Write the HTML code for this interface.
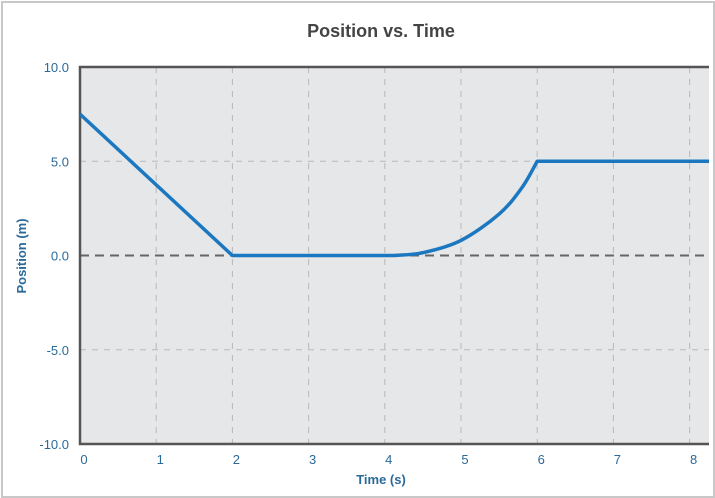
<!DOCTYPE html>
<html><head><meta charset="utf-8"><style>
body{margin:0;background:#fff;font-family:"Liberation Sans",sans-serif}
#frame{position:absolute;left:1px;top:1px;width:710px;height:493px;border:2px solid #c8c8c8}
</style></head><body>
<div id="frame"></div>
<svg id="c" width="715" height="498" style="position:absolute;left:0;top:0">
<text x="381" y="37" text-anchor="middle" font-size="18" font-weight="bold" fill="#444">Position vs. Time</text>
<text x="381" y="484" text-anchor="middle" font-size="13" font-weight="bold" fill="#2a6a9a">Time (s)</text>
<text transform="translate(26,256) rotate(-90)" text-anchor="middle" font-size="13" font-weight="bold" fill="#2a6a9a">Position (m)</text>
</svg>
<script>
const xTicks=[0,1,2,3,4,5,6,7,8];
const yTicks=[10,5,0,-5,-10];
const yTickLabels=["10.0","5.0","0.0","-5.0","-10.0"];
const times=[0,2,4.1,4.5,5,5.5,5.8,6,8.3];
const positions=[7.5,0,0,0.15,0.8,2.2,3.6,5,5];
const L=80,R=709,T=67,B=444;
const sx=t=>L+t*76.2, sy=v=>255.5-v*18.85;
const svg=document.getElementById('c'),NS='http://www.w3.org/2000/svg';
function mk(tag,a,parent){const e=document.createElementNS(NS,tag);for(const k in a)e.setAttribute(k,a[k]);(parent||svg).appendChild(e);return e;}
const defs=mk('defs',{});
const cp=mk('clipPath',{id:'plotclip'},defs);
mk('rect',{x:L-5,y:T-5,width:R-L+5,height:B-T+10},cp);
const bg=mk('rect',{x:L,y:T,width:R-L,height:B-T,fill:'#e6e7e9'});


xTicks.forEach(t=>{if(t===0)return;const g=mk('line',{x1:sx(t),x2:sx(t),y1:T,y2:B,stroke:'#b8b8b8','stroke-dasharray':'6,6'});

});
xTicks.forEach(t=>{const l=mk('text',{x:sx(t)+4,y:464,'text-anchor':'middle','font-size':13,fill:'#2a6a9a'});l.textContent=t;

});
yTicks.forEach((v,i)=>{if(v!==10&&v!==-10&&v!==0){const g=mk('line',{x1:L,x2:R,y1:sy(v),y2:sy(v),stroke:'#b8b8b8','stroke-dasharray':'6,6'});

}
const l=mk('text',{x:69,y:sy(v)+5,'text-anchor':'end','font-size':13,fill:'#2a6a9a'});l.textContent=yTickLabels[i];

});
const z=mk('line',{x1:L,x2:R,y1:sy(0),y2:sy(0),stroke:'#666','stroke-width':2,'stroke-dasharray':'9,6'});


const ax=mk('path',{d:`M${R},${T}H${L}V${B}H${R}`,fill:'none',stroke:'#555','stroke-width':2.5});


let d='M'+sx(times[0])+','+sy(positions[0]);
for(let i=1;i<times.length;i++){
 const p0=[sx(times[Math.max(0,i-2)]),sy(positions[Math.max(0,i-2)])],p1=[sx(times[i-1]),sy(positions[i-1])],p2=[sx(times[i]),sy(positions[i])],p3=[sx(times[Math.min(times.length-1,i+1)]),sy(positions[Math.min(times.length-1,i+1)])];
 const curved=times[i-1]>=4.1&&times[i]<=6;
 if(!curved){d+=`L${p2[0]},${p2[1]}`;continue;}
 const q0=times[i-1]<=4.1?p1:p0, q3=times[i]>=6?p2:p3;
 const c1=[p1[0]+(p2[0]-q0[0])/6,p1[1]+(p2[1]-q0[1])/6],c2=[p2[0]-(q3[0]-p1[0])/6,p2[1]-(q3[1]-p1[1])/6];
 d+=`C${c1[0]},${c1[1]} ${c2[0]},${c2[1]} ${p2[0]},${p2[1]}`;
}
const ln=mk('path',{d,fill:'none',stroke:'#1b78c0','stroke-width':3.5,'stroke-linejoin':'round','clip-path':'url(#plotclip)'});


</script>
</body></html>
